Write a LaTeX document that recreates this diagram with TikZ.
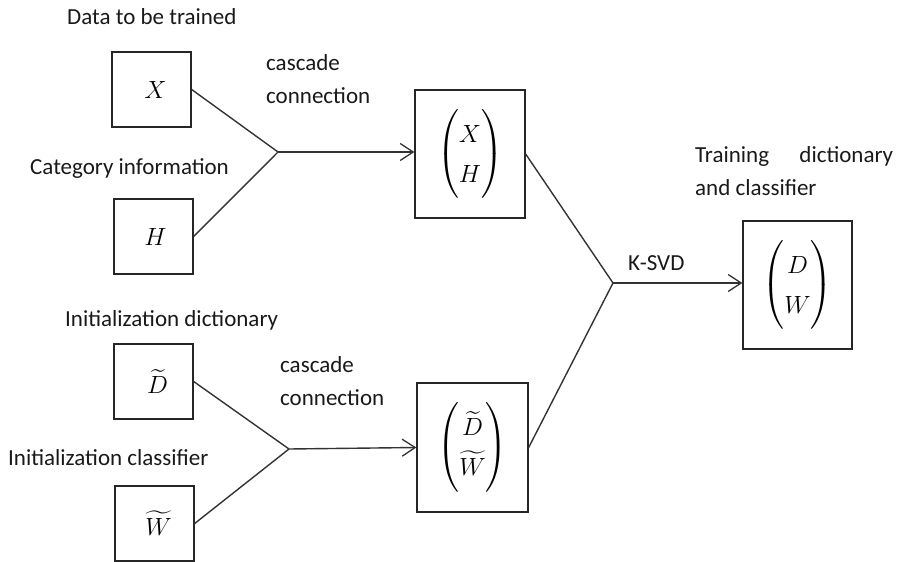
\documentclass[tikz,border=0pt]{standalone}
\usepackage{amsmath}
\usepackage{fontspec}
\setmainfont{Carlito}
\usetikzlibrary{arrows.meta}
\begin{document}
\begin{tikzpicture}[x=1pt,y=-1pt,
  box/.style={draw=black!85, line width=1.3pt, inner sep=0pt, font=\fontsize{28}{32}\selectfont},
  lbl/.style={inner sep=0pt, anchor=west, font=\fontsize{23}{33}\selectfont, text=black!90},
  conn/.style={draw=black!80, line width=1.4pt},
  arr/.style={conn, -{Straight Barb[length=13pt,width=17pt,line width=1.3pt]}}]
\useasboundingbox (0,0) rectangle (900,562);
\renewcommand{\arraystretch}{1.25}
% boxes
\node[box, minimum width=79pt, minimum height=75pt] (X) at (151.5,89.5) {\hspace*{8pt}$X$};
\node[box, minimum width=79pt, minimum height=75pt] (H) at (153.5,236.5) {\hspace*{4pt}$H$};
\node[box, minimum width=110pt, minimum height=128pt] (XH) at (470,154) {$\begin{pmatrix} X\\ H\end{pmatrix}$};
\node[box, minimum width=109pt, minimum height=128pt] (DW) at (797.5,285) {$\begin{pmatrix} D\\ W\end{pmatrix}$};
\node[box, minimum width=79pt, minimum height=75pt] (Dt) at (153.5,381.5) {\hspace*{8pt}$\widetilde{D}$};
\node[box, minimum width=79pt, minimum height=75pt] (Wt) at (154.5,523.5) {\hspace*{8pt}$\widetilde{W}$};
\node[box, minimum width=111pt, minimum height=129pt] (DtWt) at (472.5,447.5) {$\begin{pmatrix} \widetilde{D}\\ \widetilde{W}\end{pmatrix}$};
% labels
\node[lbl] (l1) at (67,17) {Data to be trained};
\node[lbl, align=left] (l2) at (266,79.5) {cascade\\connection};
\node[lbl] (l3) at (30,169) {Category information};
\node[lbl, text width=198pt, align=justify] (l4) at (695,171.5) {Training dictionary and classifier};
\node[lbl] (l5) at (628,263) {K-SVD};
\node[lbl] (l6) at (65,320) {Initialization dictionary};
\node[lbl, align=left] (l7) at (280,381.5) {cascade\\connection};
\node[lbl] (l8) at (8,458) {Initialization classifier};
% junctions
\coordinate (j1) at (278,152);
\coordinate (j2) at (613,283);
\coordinate (j3) at (289,449);
% connectors
\draw[conn] (X.east) -- (j1);
\draw[conn] (H.east) -- (j1);
\draw[arr] (j1) -- (j1 -| XH.west);
\draw[conn] (Dt.east) -- (j3);
\draw[conn] (Wt.east) -- (j3);
\draw[arr] (j3) -- (DtWt.west);
\draw[conn] (XH.east) -- (j2);
\draw[conn] (DtWt.east) -- (j2);
\draw[arr] (j2) -- (j2 -| DW.west);
\end{tikzpicture}
\end{document}
